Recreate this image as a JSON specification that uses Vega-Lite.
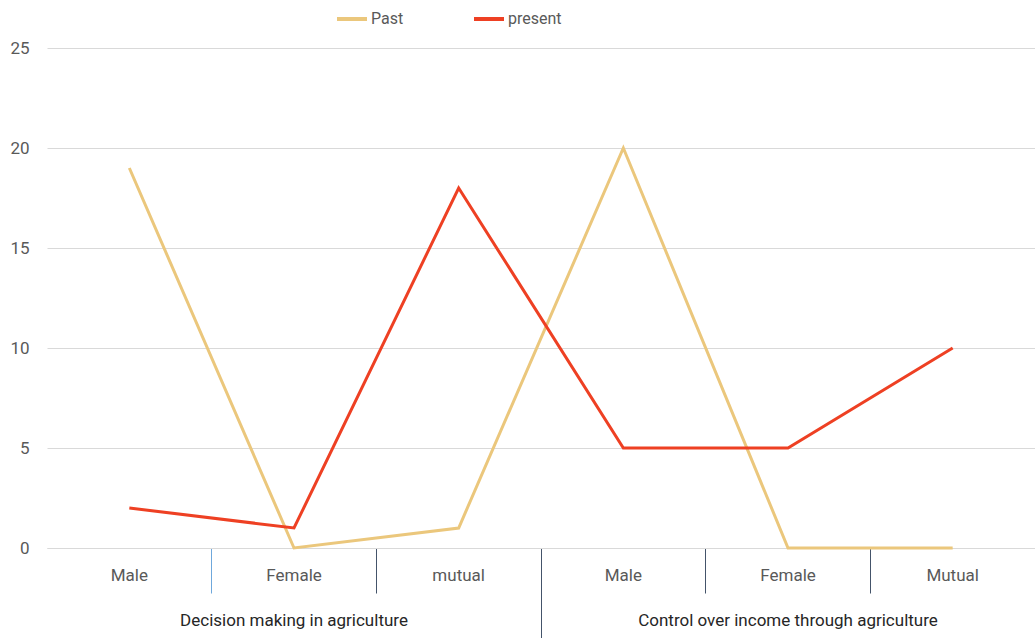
{
  "$schema": "https://vega.github.io/schema/vega-lite/v6.json",
  "width": 988,
  "height": 500,
  "autosize": {"type": "none"},
  "padding": {"left": 47, "top": 48, "right": 0, "bottom": 90},
  "background": "white",
  "config": {"font": "Roboto", "view": {"stroke": null}},
  "datasets": {
    "lines": [
      {"key": "D-Male", "series": "Past", "value": 19},
      {"key": "D-Female", "series": "Past", "value": 0},
      {"key": "D-mutual", "series": "Past", "value": 1},
      {"key": "C-Male", "series": "Past", "value": 20},
      {"key": "C-Female", "series": "Past", "value": 0},
      {"key": "C-Mutual", "series": "Past", "value": 0},
      {"key": "D-Male", "series": "present", "value": 2},
      {"key": "D-Female", "series": "present", "value": 1},
      {"key": "D-mutual", "series": "present", "value": 18},
      {"key": "C-Male", "series": "present", "value": 5},
      {"key": "C-Female", "series": "present", "value": 5},
      {"key": "C-Mutual", "series": "present", "value": 10}
    ],
    "groups": [
      {"key": "D-Female", "group": "Decision making in agriculture"},
      {"key": "C-Female", "group": "Control over income through agriculture"}
    ]
  },
  "layer": [
    {
      "data": {"name": "lines"},
      "mark": {"type": "line", "strokeWidth": 3, "strokeJoin": "miter"},
      "encoding": {
        "x": {
          "field": "key",
          "type": "nominal",
          "sort": ["D-Male", "D-Female", "D-mutual", "C-Male", "C-Female", "C-Mutual"],
          "scale": {"type": "band", "paddingInner": 0, "paddingOuter": 0, "domain": ["D-Male", "D-Female", "D-mutual", "C-Male", "C-Female", "C-Mutual"]},
          "title": null,
          "axis": {
            "bandPosition": 0,
            "labelOffset": 0,
            "labelAngle": 0,
            "labelExpr": "split(datum.value, '-')[1]",
            "labelFontSize": 17,
            "labelColor": "#595959",
            "labelPadding": {"expr": "datum.value === 'C-Male' ? -71 : -26"},
            "labelBaseline": "top",
            "labelAlign": "center",
            "domainColor": "#d9d9d9",
            "domainWidth": 1,
            "grid": false,
            "ticks": true,
            "tickSize": {"expr": "datum.value === 'C-Male' ? 90 : 45"},
            "tickColor": {"condition": {"test": "datum.value === 'D-Female'", "value": "#6FA8DC"}, "value": "#44546A"},
            "tickOpacity": {"condition": {"test": "datum.value === 'D-Male'", "value": 0}, "value": 1},
            "tickWidth": 1
          }
        },
        "y": {
          "field": "value",
          "type": "quantitative",
          "scale": {"domain": [0, 25], "nice": false},
          "title": null,
          "axis": {
            "values": [0, 5, 10, 15, 20, 25],
            "domain": false,
            "ticks": false,
            "labelFontSize": 17,
            "labelColor": "#595959",
            "labelPadding": 18,
            "gridColor": "#d9d9d9",
            "gridWidth": 1
          }
        },
        "color": {
          "field": "series",
          "type": "nominal",
          "scale": {"domain": ["Past", "present"], "range": ["#EBC77C", "#EE4023"]},
          "legend": {
            "title": null,
            "orient": "none",
            "direction": "horizontal",
            "legendX": 288,
            "legendY": -46,
            "symbolType": "stroke",
            "symbolSize": 900,
            "symbolStrokeWidth": 4,
            "labelFontSize": 16,
            "labelColor": "#595959",
            "labelFontWeight": "normal",
            "labelOffset": 2,
            "columnPadding": 62
          }
        }
      }
    },
    {
      "data": {"name": "groups"},
      "mark": {"type": "text", "fontSize": 17, "color": "#262626", "baseline": "middle", "align": "center"},
      "encoding": {
        "x": {"field": "key", "type": "nominal", "sort": ["D-Male", "D-Female", "D-mutual", "C-Male", "C-Female", "C-Mutual"]},
        "y": {"datum": -3.65, "type": "quantitative"},
        "text": {"field": "group"}
      }
    }
  ]
}
